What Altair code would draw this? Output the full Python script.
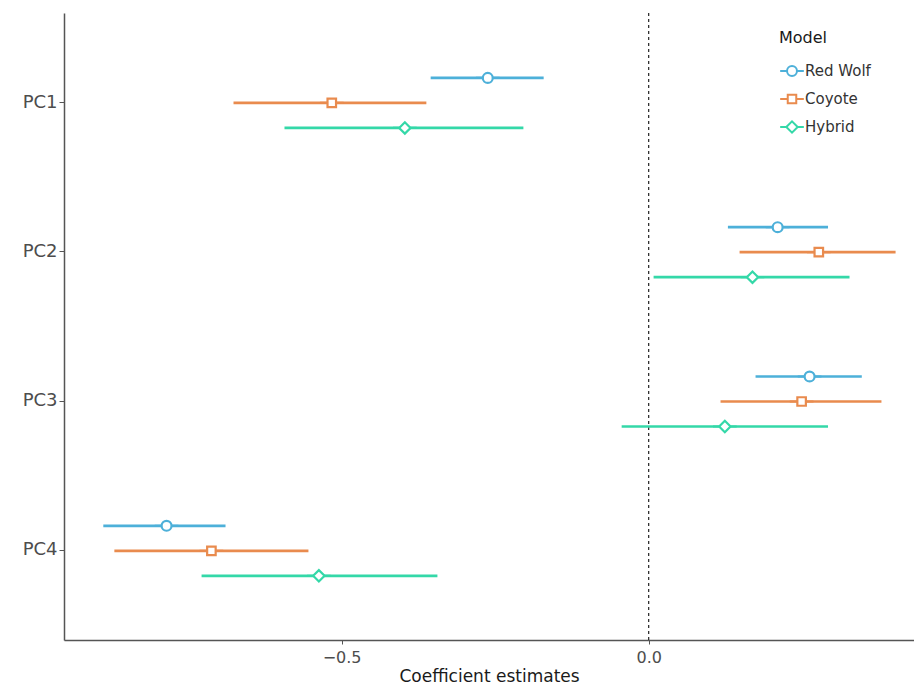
import altair as alt
import pandas as pd

components = ["PC1", "PC2", "PC3", "PC4"]
models = ["Red Wolf", "Coyote", "Hybrid"]

# estimates and interval bounds, per model, in component order
est_redwolf = [-0.262, 0.210, 0.262, -0.785]
lo_redwolf = [-0.355, 0.129, 0.174, -0.888]
hi_redwolf = [-0.171, 0.292, 0.347, -0.689]

est_coyote = [-0.516, 0.277, 0.249, -0.712]
lo_coyote = [-0.676, 0.148, 0.117, -0.870]
hi_coyote = [-0.362, 0.402, 0.379, -0.554]

est_hybrid = [-0.397, 0.169, 0.124, -0.537]
lo_hybrid = [-0.593, 0.008, -0.044, -0.728]
hi_hybrid = [-0.204, 0.327, 0.292, -0.344]

colors = ["#4DB0D9", "#E98B4E", "#34D8A8"]

rows = []
for m, est, lo, hi in [
    ("Red Wolf", est_redwolf, lo_redwolf, hi_redwolf),
    ("Coyote", est_coyote, lo_coyote, hi_coyote),
    ("Hybrid", est_hybrid, lo_hybrid, hi_hybrid),
]:
    for c, e, l, h in zip(components, est, lo, hi):
        rows.append({"PC": c, "Model": m, "est": e, "lo": l, "hi": h})
df = pd.DataFrame(rows)

shape_circle = "M-1,0L-0.42,0M0.42,0L1,0M0.42,0A0.42,0.42,0,1,1,-0.42,0A0.42,0.42,0,1,1,0.42,0Z"
shape_square = "M-1,0L-0.36,0M0.36,0L1,0M-0.36,-0.36L0.36,-0.36L0.36,0.36L-0.36,0.36Z"
shape_diamond = "M-1,0L-0.48,0M0.48,0L1,0M-0.48,0L0,-0.48L0.48,0L0,0.48Z"

FONT = "DejaVu Sans"

legend = alt.Legend(title="Model", orient="none", legendX=715, legendY=17,
                    titleFont=FONT, titleFontSize=16, titleFontWeight="normal",
                    titleColor="#1a1a1a", labelFont=FONT, labelFontSize=15,
                    labelColor="#333333", titlePadding=12, rowPadding=6,
                    symbolSize=560, symbolStrokeWidth=2, symbolFillColor="white",
                    labelOffset=0, padding=0)

yenc = alt.Y("PC:N", sort=components, title=None,
             scale=alt.Scale(paddingInner=0, paddingOuter=0.1),
             axis=alt.Axis(labelFontSize=18, labelColor="#4d4d4d", labelFont=FONT,
                           domainColor="#555555", domainWidth=1.5, tickColor="#555555",
                           tickSize=5, labelPadding=2, grid=False))
yoff = alt.YOffset("Model:N", sort=models,
                   scale=alt.Scale(domain=models, paddingInner=0, paddingOuter=0,
                                   range=[37.5, 112.5]))
xscale = alt.Scale(domain=[-0.952, 0.432], nice=False, zero=False)
xenc = alt.X("lo:Q", scale=xscale, title="Coefficient estimates",
             axis=alt.Axis(values=[-0.5, 0.0], format=".1f", labelFontSize=16,
                           labelColor="#4d4d4d", labelFont=FONT, titleFont=FONT,
                           titleFontSize=17, titleFontWeight="normal", titleColor="#1a1a1a",
                           domainColor="#555555", domainWidth=1.5, tickColor="#555555",
                           tickSize=4, labelPadding=5, titlePadding=3, grid=False))
color = alt.Color("Model:N", sort=models,
                  scale=alt.Scale(domain=models, range=colors), legend=legend)
shape = alt.Shape("Model:N", sort=models,
                  scale=alt.Scale(domain=models, range=[shape_circle, shape_square, shape_diamond]),
                  legend=legend)

zero_rule = alt.Chart(pd.DataFrame({"z": [0.0]})).mark_rule(
    color="#222222", strokeDash=[3, 3], strokeWidth=1.2
).encode(x=alt.X("z:Q", scale=xscale))

bars = alt.Chart(df).mark_rule(strokeWidth=2.7).encode(
    y=yenc, yOffset=yoff, x=xenc, x2="hi:Q", color=color)

points = alt.Chart(df).mark_point(filled=False, size=560, strokeWidth=2.2, fill="white",
                                  fillOpacity=1, opacity=1).encode(
    y=alt.Y("PC:N", sort=components),
    yOffset=yoff,
    x=alt.X("est:Q", scale=xscale),
    color=color,
    shape=shape,
)

chart = alt.layer(zero_rule, bars, points).properties(
    width=850, height=627,
    autosize=alt.AutoSizeParams(type="none"),
    padding={"left": 56, "top": 5, "right": 0, "bottom": 48},
).configure(background="white").configure_view(stroke=None)

chart.save("out.html", embed_options={"renderer": "svg", "actions": False})
